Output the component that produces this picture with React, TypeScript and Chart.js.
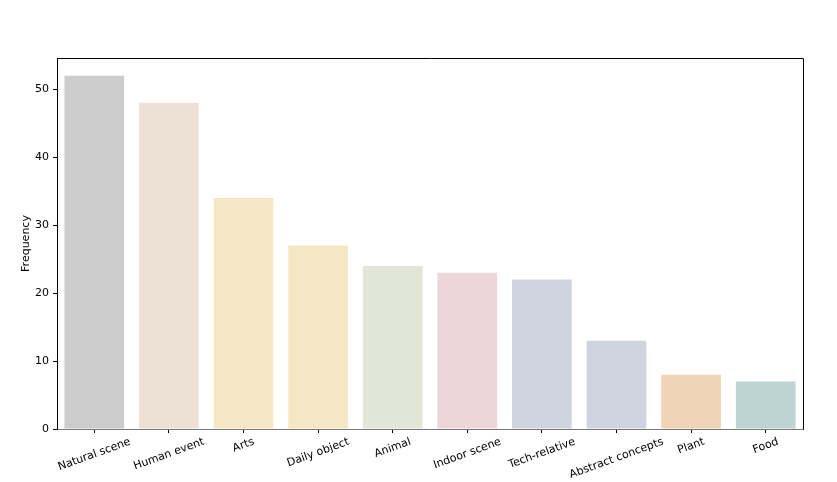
import React, { useEffect, useRef } from "react";
import { Chart, registerables } from "chart.js";

Chart.register(...registerables);

const categories = [
  "Natural scene",
  "Human event",
  "Arts",
  "Daily object",
  "Animal",
  "Indoor scene",
  "Tech-relative",
  "Abstract concepts",
  "Plant",
  "Food",
];
const frequencies = [52, 48, 34, 27, 24, 23, 22, 13, 8, 7];
const barColors = [
  "#cccccc",
  "#ede1d5",
  "#f5e7c3",
  "#f5e7c3",
  "#e1e6d6",
  "#ecd6d9",
  "#d0d4e0",
  "#d0d4e0",
  "#f1d3b5",
  "#bed4d2",
];
const yTicks = [0, 10, 20, 30, 40, 50];
const yMax = 54.6;
const yTitle = "Frequency";

const FONT = "DejaVu Sans";
const FS = 11;

export default function App() {
  const ref = useRef<HTMLCanvasElement | null>(null);

  useEffect(() => {
    const canvas = ref.current;
    if (!canvas) return;

    const framePlugin = {
      id: "frame",
      afterDraw(chart: any) {
        const { ctx, chartArea } = chart;
        ctx.save();
        ctx.strokeStyle = "#000000";
        ctx.lineWidth = 1;
        ctx.beginPath();
        ctx.moveTo(Math.round(chartArea.left) + 0.5, Math.round(chartArea.top) + 0.5);
        ctx.lineTo(Math.round(chartArea.right) + 0.5, Math.round(chartArea.top) + 0.5);
        ctx.lineTo(Math.round(chartArea.right) + 0.5, Math.round(chartArea.bottom) + 0.5);
        ctx.stroke();
        ctx.restore();
      },
    };

    const xLabelPlugin = {
      id: "xlabels",
      afterDraw(chart: any) {
        const { ctx, chartArea } = chart;
        const xs = chart.scales.x;
        const ang = (20 * Math.PI) / 180;
        ctx.save();
        ctx.font = `${FS}px "${FONT}"`;
        ctx.fillStyle = "#000000";
        ctx.textAlign = "center";
        ctx.textBaseline = "middle";
        categories.forEach((label, i) => {
          const x = xs.getPixelForTick(i);
          const w = ctx.measureText(label).width;
          const h = FS * 1.05;
          const v = w * Math.sin(ang) + h * Math.cos(ang);
          const cy = chartArea.bottom + 7 + v / 2;
          ctx.save();
          ctx.translate(x, cy);
          ctx.rotate(-ang);
          ctx.fillText(label, 0, 0);
          ctx.restore();
        });
        ctx.restore();
      },
    };

    const chart = new Chart(canvas, {
      type: "bar",
      data: {
        labels: categories,
        datasets: [
          {
            data: frequencies,
            backgroundColor: barColors,
            borderWidth: 0,
            barPercentage: 0.8,
            categoryPercentage: 1,
          },
        ],
      },
      options: {
        animation: false,
        responsive: false,
        devicePixelRatio: 1,
        layout: { padding: { top: 58, right: 34, left: 0, bottom: 0 } },
        plugins: {
          legend: { display: false },
          tooltip: { enabled: false },
          title: { display: false },
        },
        scales: {
          x: {
            type: "category",
            offset: true,
            grid: {
              display: true,
              offset: false,
              drawOnChartArea: false,
              drawTicks: true,
              tickLength: 4,
              color: "#000000",
            },
            border: { display: true, color: "#7a7a7a", width: 1 },
            ticks: { display: false },
            afterFit(scale: any) {
              scale.height = 53;
            },
          },
          y: {
            type: "linear",
            min: 0,
            max: yMax,
            grid: {
              display: true,
              drawOnChartArea: false,
              drawTicks: true,
              tickLength: 4,
              color: "#000000",
            },
            border: { display: true, color: "#000000", width: 1 },
            ticks: {
              stepSize: 10,
              includeBounds: false,
              padding: 4,
              color: "#000000",
              font: { family: FONT, size: FS },
            },
            afterBuildTicks(scale: any) {
              scale.ticks = yTicks.map((v) => ({ value: v }));
            },
            title: {
              display: true,
              text: yTitle,
              color: "#000000",
              font: { family: FONT, size: FS },
              padding: { top: 20, bottom: 0 },
            },
            afterFit(scale: any) {
              scale.width = 57;
            },
          },
        },
      },
      plugins: [framePlugin, xLabelPlugin],
    });

    return () => {
      chart.destroy();
    };
  }, []);

  return (
    <div style={{ position: "absolute", left: 0, top: 0, width: 837, height: 482, background: "#ffffff" }}>
      <canvas ref={ref} width={837} height={482} style={{ width: 837, height: 482, display: "block" }} />
    </div>
  );
}
